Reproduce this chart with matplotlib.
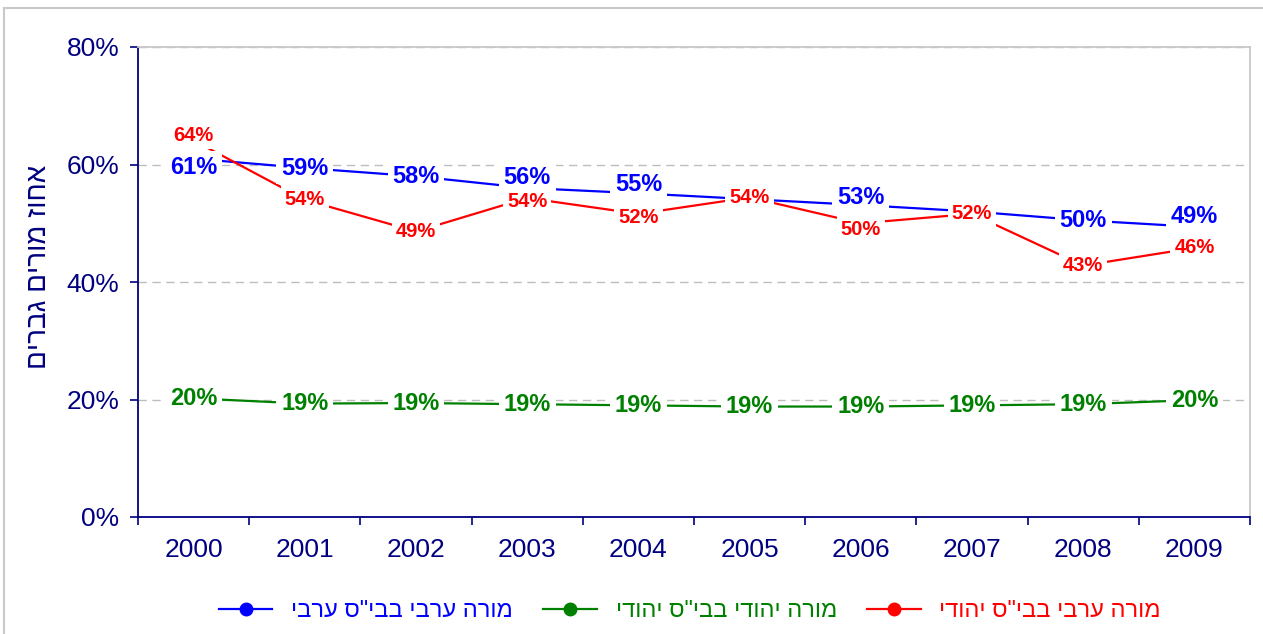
import numpy as np
import matplotlib
matplotlib.use("Agg")
import matplotlib.pyplot as plt
from matplotlib.lines import Line2D
from matplotlib.patches import Rectangle

plt.rcParams['font.family'] = ['Liberation Sans', 'DejaVu Sans']

# data
years = ["2000", "2001", "2002", "2003", "2004", "2005", "2006", "2007", "2008", "2009"]
arab_in_arab = [61.0, 59.4, 58.0, 56.0, 55.1, 54.1, 53.1, 52.0, 50.5, 49.4]
jew_in_jewish = [20.2, 19.3, 19.4, 19.2, 19.0, 18.8, 18.8, 19.0, 19.2, 19.9]
arab_in_jewish = [64.1, 54.0, 48.6, 54.3, 51.6, 54.4, 50.0, 51.6, 42.8, 45.8]

names = ['מורה ערבי בבי"ס ערבי', 'מורה יהודי בבי"ס יהודי', 'מורה ערבי בבי"ס יהודי']
ylabel = "אחוז מורים גברים"

# label nudges in pixels (up = positive), None = label hidden
blue_off = [-9, 0, 0, 11, 9, None, 8, None, 0, 10]
green_off = [0] * 10
red_off = [5, 0, 0, -4, -4, 0, -6, 0, 0, 0]


def heb(s):
    # matplotlib has no bidi, so flip Hebrew by hand
    return s[::-1]


navy = "#000080"
fig = plt.figure(figsize=(12.63, 6.34), dpi=100)
ax = fig.add_axes([138 / 1263, 1 - 517 / 634, 1112 / 1263, 470 / 634])

x = np.arange(len(years))
series = [(arab_in_arab, "#0000FF", names[0], blue_off, 17),
          (jew_in_jewish, "#008000", names[1], green_off, 17),
          (arab_in_jewish, "#FF0000", names[2], red_off, 14.5)]

handles = []
for i, (vals, col, name, offs, fs) in enumerate(series):
    ax.plot(x, vals, color=col, lw=1.6, zorder=3 + i * 0.1)
    handles.append(Line2D([], [], color=col, lw=1.6, marker="o", markersize=9,
                          label=heb(name)))
    for xi, v, off in zip(x, vals, offs):
        if off is None:
            continue
        ax.annotate("%d%%" % round(v), (xi, v), xytext=(0, off * 0.72),
                    textcoords="offset points", ha="center", va="center",
                    fontsize=fs, fontweight="bold", color=col,
                    bbox=dict(boxstyle="square,pad=0.2", fc="white", ec="none"),
                    zorder=10 + i)

ax.set_xlim(-0.5, len(years) - 0.5)
ax.set_ylim(0, 80)
ax.set_yticks([0, 20, 40, 60, 80])
ax.set_yticklabels(["0%", "20%", "40%", "60%", "80%"])
ax.set_xticks(x)
ax.set_xticklabels(years)
ax.set_xticks(np.arange(-0.5, len(years)), minor=True)

ax.tick_params(axis="x", which="major", length=0, pad=15, labelsize=19, labelcolor=navy)
ax.tick_params(axis="x", which="minor", length=5.5, width=1.2, color=navy, direction="out")
ax.tick_params(axis="y", length=5.5, width=1.2, color=navy, pad=8, labelsize=19, labelcolor=navy)

ax.yaxis.grid(True, color="#bdbdbd", linestyle=(0, (6, 4)), lw=1)
ax.set_axisbelow(True)

for s in ["left", "bottom"]:
    ax.spines[s].set_color(navy)
    ax.spines[s].set_linewidth(1.3)
for s in ["top", "right"]:
    ax.spines[s].set_color("#c8c8c8")
    ax.spines[s].set_linewidth(1.3)

ax.set_ylabel(heb(ylabel), fontsize=20, color=navy, rotation=90)
ax.yaxis.set_label_coords(-0.077, 0.532)

fig.legend(handles=handles, loc="center", bbox_to_anchor=(690 / 1263, 1 - 611 / 634),
           ncol=3, frameon=False, fontsize=17, labelcolor="linecolor",
           handlelength=2.25, handletextpad=0.8, columnspacing=1.3)

# outer chart border
fig.patches.append(Rectangle((4 / 1263, -0.05), 1.1, 1 - 8 / 634 + 0.05,
                             transform=fig.transFigure, fill=False,
                             ec="#c8c8c8", lw=1.5))

fig.savefig("out.png", dpi=100)
